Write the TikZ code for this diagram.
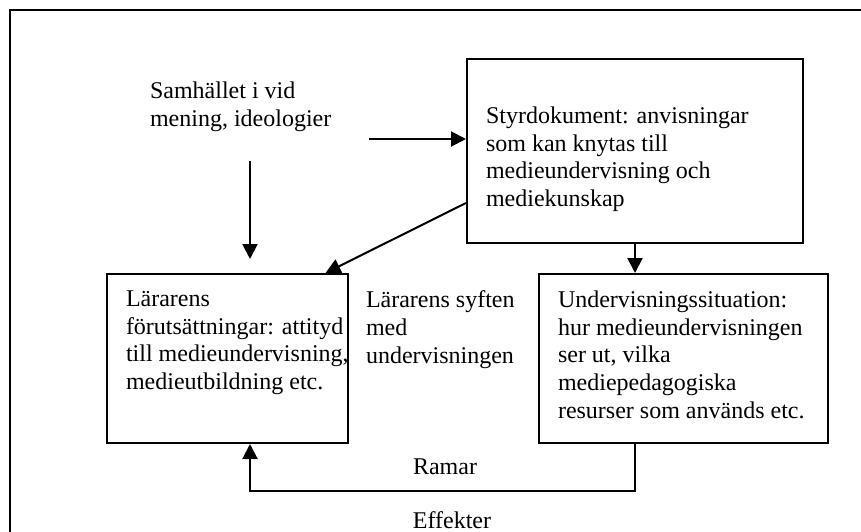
\documentclass[tikz,border=0pt]{standalone}
\usepackage{fontspec}
\setmainfont{Liberation Serif}
\usetikzlibrary{arrows.meta}

\begin{document}
\begin{tikzpicture}[x=1pt,y=-1pt,line width=2pt,
  every node/.style={font=\fontsize{24}{27.6}\selectfont,inner sep=0pt},
  box/.style={draw,anchor=north west},
  txt/.style={anchor=north west,align=left},
  arr/.style={-{Triangle[length=15pt,width=15pt]}}]
\useasboundingbox (0,0) rectangle (861,532);
\draw (861,10) -- (10,10) -- (10,532);
\node [box,minimum width=336pt,minimum height=184pt] (styr) at (466,58) {};
\node [box,minimum width=241pt,minimum height=169pt] (lar) at (106,273) {};
\node [box,minimum width=289pt,minimum height=169pt] (under) at (538,273) {};
\node [txt] (samh) at (149,81) {Samh\"allet i vid\\mening, ideologier};
\node [txt] (styrtext) at (485,106) {Styrdokument: anvisningar\\som kan knytas till\\medieundervisning och\\mediekunskap};
\node [txt] (lartext) at (125,290) {L\"ararens\\f\"oruts\"attningar: attityd\\till medieundervisning,\\medieutbildning etc.};
\node [txt] (syften) at (365,290) {L\"ararens syften\\med\\undervisningen};
\node [txt] (undertext) at (557,290) {Undervisningssituation:\\hur medieundervisningen\\ser ut, vilka\\mediepedagogiska\\resurser som anv\"ands etc.};
\node [anchor=base] (ramar) at (445,474) {Ramar};
\node [anchor=base] (effekter) at (452,528) {Effekter};
\coordinate (h1) at (369,139);
\coordinate (v1) at (250,161);
\coordinate (v2) at (250,259);
\draw [arr] (h1) -- (h1 -| styr.west);
\draw [arr] (v1) -- (v2);
\draw [arr] ([yshift=-52pt]styr.west) -- ([xshift=98pt]lar.north);
\draw [arr] (styr.south) -- (styr.south |- under.north);
\draw [arr] (styr.south |- under.south) -- ++(0,47) -| (v1 |- lar.south);
\end{tikzpicture}
\end{document}
